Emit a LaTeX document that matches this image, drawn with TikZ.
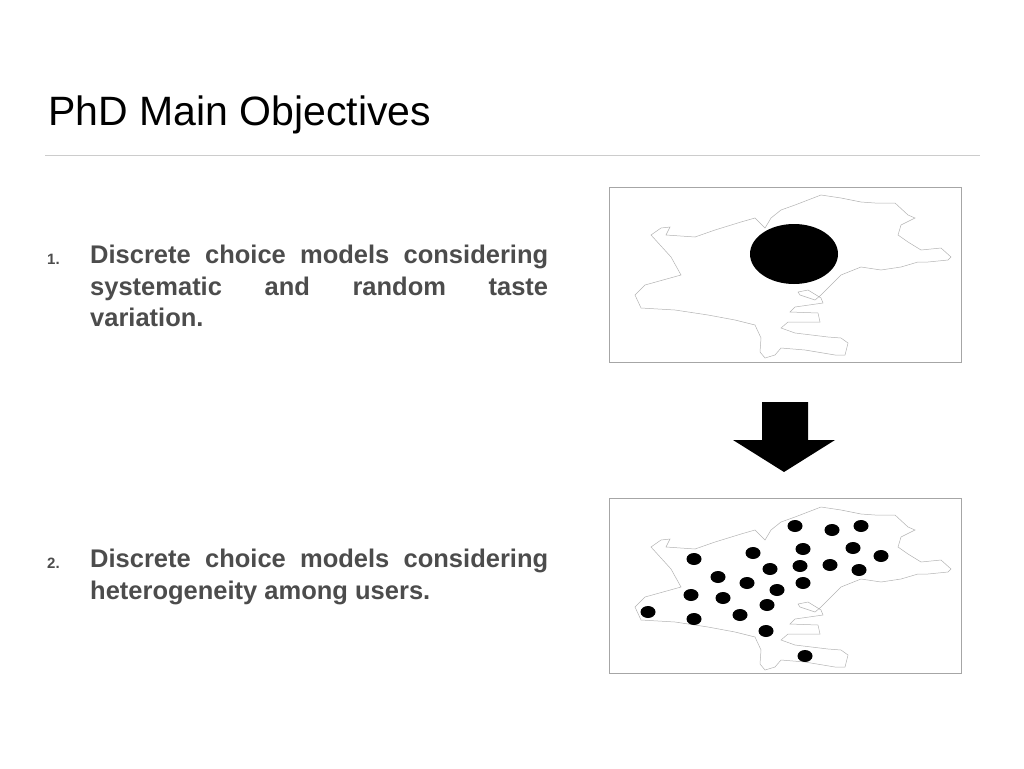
\documentclass[tikz,border=0pt]{standalone}
\usepackage{fontspec}
\setmainfont{Liberation Sans}
\usetikzlibrary{positioning}
\hyphenpenalty=10000
\exhyphenpenalty=10000

\newcommand{\cityoutline}{%
  \draw[gray!60, line width=0.5pt] (43,50) -- (53,43) -- (62,42) -- (58,50) -- (87,52) -- (107,45) -- (133,37)
    -- (147,33) -- (157,43) -- (163,33) -- (173,25) -- (187,20) -- (213,10) -- (233,13) -- (253,17)
    -- (267,18) -- (287,18) -- (300,30) -- (307,33) -- (293,40) -- (290,50) -- (300,57) -- (313,65)
    -- (333,63) -- (343,72) -- (340,75) -- (320,77) -- (310,77) -- (293,82) -- (273,85) -- (253,82)
    -- (233,90) -- (223,100) -- (213,110) -- (207,115) -- (192,110) -- (190,107) -- (200,105)
    -- (213,113) -- (215,118) -- (187,122) -- (182,127) -- (210,128) -- (212,137) -- (180,137)
    -- (173,143) -- (187,148) -- (220,152) -- (233,153) -- (240,158) -- (237,170) -- (227,170)
    -- (197,165) -- (173,163) -- (167,170) -- (157,173) -- (152,167) -- (153,153) -- (147,140)
    -- (127,135) -- (100,130) -- (67,125) -- (33,123) -- (27,110) -- (37,100) -- (73,90)
    -- (63,72) -- cycle;}

\begin{document}
\begin{tikzpicture}[x=1pt, y=-1pt,
    mapbox/.style = {draw=gray!70, line width=0.8pt},
    item/.style   = {anchor=north west, text width=458pt, align=justify, inner sep=0pt,
                     font=\fontsize{25.5}{31.5}\selectfont\bfseries, text=black!70},
    num/.style    = {anchor=north west, inner sep=0pt, font=\fontsize{15}{16}\selectfont\bfseries, text=black!70}]

  \useasboundingbox (0,0) rectangle (1024,768);

  % title and rule
  \node[anchor=base west, inner sep=0pt, font=\fontsize{41}{44}\selectfont] (title) at (48,125) {PhD Main Objectives};
  \draw[gray!40, line width=1pt] (45,155) -- (980,155);

  % objectives
  \node[num] (n1) at (47,254) {1.};
  \node[item] (o1) at (90,245) {Discrete choice models considering systematic and random taste variation.};
  \node[num] (n2) at (47,558) {2.};
  \node[item] (o2) at (90,549) {Discrete choice models considering heterogeneity among users.};

  % upper map
  \node[mapbox, minimum width=352pt, minimum height=175pt, anchor=north west] (map1) at (609,187) {};
  \begin{scope}[shift={(608,185)}]
    \cityoutline
  \end{scope}
  \fill (794,254) ellipse [x radius=44, y radius=30];

  % arrow
  \fill (762,402) -- (808,402) -- (808,440) -- (835,440) -- (784,472) -- (733,440) -- (762,440) -- cycle;

  % lower map
  \node[mapbox, minimum width=352pt, minimum height=175pt, anchor=north west] (map2) at (609,498) {};
  \begin{scope}[shift={(608,497)}]
    \cityoutline
  \end{scope}
  \foreach \px/\py in {795/526, 832/530, 861/526, 694/559, 753/553, 803/549, 853/548, 881/556,
      718/577, 770/569, 800/566, 830/565, 859/570, 747/583, 691/595, 723/598, 777/590, 803/583,
      648/612, 694/619, 740/615, 767/605, 766/631, 805/656}
    \fill (\px,\py) ellipse [x radius=7.5, y radius=6];
\end{tikzpicture}
\end{document}
